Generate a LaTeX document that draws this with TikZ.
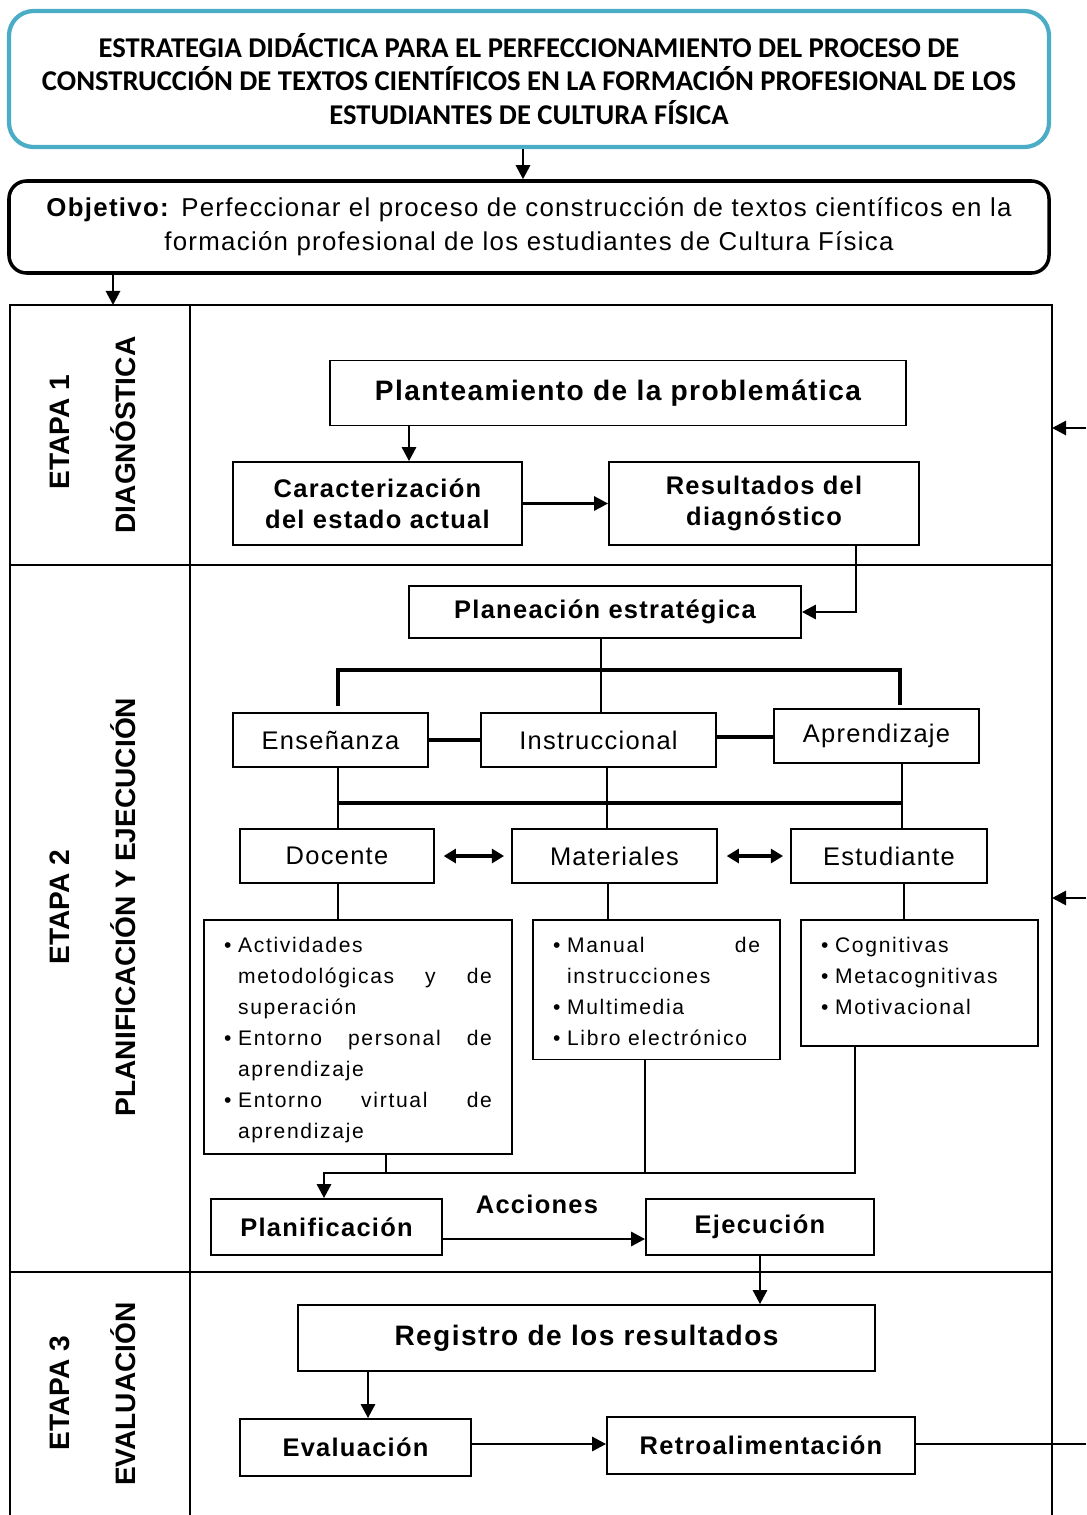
\documentclass[tikz,border=0pt]{standalone}
\usepackage{fontspec}
\setmainfont{Liberation Sans}[LetterSpace=5]
\newfontfamily\etapafont{Liberation Sans}
\newfontfamily\listafont{Liberation Sans}[LetterSpace=8]
\newfontfamily\titulofont{Carlito}
\usetikzlibrary{arrows.meta}
\definecolor{azulborde}{RGB}{75,172,198}
\newcommand\singuiones{\lefthyphenmin=62\relax}
\newcommand\vineta[1]{\par\noindent\hangindent=8pt\hangafter=1\makebox[8pt][l]{\textbullet}#1\par}
\newcommand\relleno[1]{\par\kern#1\relax}
\begin{document}
\begin{tikzpicture}[x=0.02cm,y=-0.02cm,
    caja/.style 2 args={draw,line width=1pt,minimum width=#1*0.02cm,minimum height=#2*0.02cm,inner sep=2pt,align=center,font=\fontsize{14.5}{17.5}\selectfont},
    negrita/.style={font=\fontsize{14.5}{17.5}\selectfont\bfseries},
    grande/.style={font=\fontsize{16}{19}\selectfont\bfseries},
    lista/.style={draw,line width=1pt,text width=#1,inner xsep=0.4cm,inner ysep=1pt,align=justify,
        font=\listafont\fontsize{12}{17.6}\selectfont\singuiones},
    etapa/.style={rotate=90,font=\etapafont\bfseries\fontsize{16}{19}\selectfont},
    marco/.style={line width=0.8pt},
    linea/.style={line width=1.6pt},
    barra/.style={line width=2.2pt},
    flecha/.style={line width=1.6pt,-{Triangle[length=8pt,width=8pt]}},
    doble/.style={line width=1.8pt,{Triangle[length=7pt,width=8pt]}-{Triangle[length=7pt,width=8pt]},shorten <=5pt,shorten >=4pt}]
    \useasboundingbox (0,0) rectangle (1086,1515);
    %Encabezado
    \node[draw=azulborde,line width=2.4pt,rounded corners=14pt,minimum width=1040*0.02cm,minimum height=136*0.02cm,align=center,
        font=\titulofont\bfseries\fontsize{16.3}{19}\selectfont] (titulo) at (529,79)
        {ESTRATEGIA DIDÁCTICA PARA EL PERFECCIONAMIENTO DEL PROCESO DE\\
         CONSTRUCCIÓN DE TEXTOS CIENTÍFICOS EN LA FORMACIÓN PROFESIONAL DE LOS\\
         ESTUDIANTES DE CULTURA FÍSICA};
    \node[draw,line width=2pt,rounded corners=10pt,minimum width=1040*0.02cm,minimum height=92*0.02cm,align=center,
        font=\fontsize{14.7}{19.3}\selectfont] (objetivo) at (529,227)
        {\textbf{Objetivo:} Perfeccionar el proceso de construcción de textos científicos en la\\
         formación profesional de los estudiantes de Cultura Física};
    \draw[flecha] (titulo.south -| 523,0) -- (objetivo.north -| 523,0);
    \coordinate (entrada) at (113,305);
    \draw[flecha] (objetivo.south -| entrada) -- (entrada);

    %Marco de etapas
    \draw[marco] (10,1515) -- (10,305) -- (1052,305) -- (1052,1515);
    \draw[marco] (190,305) -- (190,1515);
    \draw[marco] (10,565) -- (1052,565);
    \draw[marco] (10,1272) -- (1052,1272);
    \node[etapa] (e1) at (60,432) {ETAPA 1};
    \node[etapa] (n1) at (123,435) {DIAGNÓSTICA};
    \node[etapa] (e2) at (60,907) {ETAPA 2};
    \node[etapa] (n2) at (123,907) {PLANIFICACIÓN Y EJECUCIÓN};
    \node[etapa] (e3) at (60,1393) {ETAPA 3};
    \node[etapa] (n3) at (123,1394) {EVALUACIÓN};

    %Etapa 1
    \node[caja={576}{65},grande] (plant) at (618,393) {Planteamiento de la problemática};
    \node[caja={289}{83},negrita] (caract) at (377.5,503.5) {Caracterización\\del estado actual};
    \node[caja={310}{83},negrita] (result) at (764,503.5) {Resultados del\\diagnóstico};
    \draw[flecha] (plant.south -| 409,0) -- (caract.north -| 409,0);
    \draw[flecha] (caract.east) -- (result.west);

    %Etapa 2
    \node[caja={392}{52},negrita] (planea) at (605,612) {Planeación estratégica};
    \draw[flecha] (result.south -| 856,0) |- (planea.east);
    \node[caja={195}{54}] (ensen) at (330.5,740) {Enseñanza};
    \node[caja={235}{54}] (instr) at (598.5,740) {Instruccional};
    \node[caja={205}{54}] (aprend) at (876.5,736) {Aprendizaje};
    \draw[linea] (planea.south -| 601,0) -- (instr.north -| 601,0);
    \draw[barra] (ensen.north -| 338,0) ++(0,-6) -- (338,670) -- (900,670) -- ([yshift=0.06cm]aprend.north -| 900,0);
    \draw[barra] (ensen.east) -- (instr.west);
    \draw[barra] (instr.east |- 0,737) -- (aprend.west |- 0,737);
    \node[caja={194}{54}] (docente) at (337,856) {Docente};
    \node[caja={205}{54}] (mater) at (614.5,856) {Materiales};
    \node[caja={196}{54}] (estud) at (889,856) {Estudiante};
    \draw[linea] (ensen.south -| 338,0) -- (docente.north -| 338,0);
    \draw[linea] (instr.south -| 607,0) -- (mater.north -| 607,0);
    \draw[linea] (aprend.south -| 902,0) -- (estud.north -| 902,0);
    \draw[barra] (338,803) -- (902,803);
    \draw[doble] (docente.east) -- (mater.west);
    \draw[doble] (mater.east) -- (estud.west);
    \node[lista=5.36cm,anchor=north] (ldoc) at (358,919)
        {\vineta{Actividades\newline metodológicas y de superación}
         \vineta{Entorno personal de aprendizaje}
         \vineta{Entorno virtual de aprendizaje}\relleno{5.6pt}};
    \node[lista=4.14cm,anchor=north] (lmat) at (656.5,919)
        {\vineta{Manual de instrucciones}
         \vineta{Multimedia}
         \vineta{Libro electrónico}\relleno{7pt}};
    \node[lista=3.94cm,anchor=north] (lest) at (919.5,919)
        {\vineta{Cognitivas}
         \vineta{Metacognitivas}
         \vineta{Motivacional}\relleno{17pt}};
    \draw[linea] (docente.south -| 338,0) -- (ldoc.north -| 338,0);
    \draw[linea] (mater.south -| 608,0) -- (lmat.north -| 608,0);
    \draw[linea] (estud.south -| 904,0) -- (lest.north -| 904,0);
    \node[caja={231}{56},negrita] (planif) at (326.5,1227) {Planificación};
    \node[caja={228}{56},negrita] (ejec) at (760,1227) {Ejecución};
    \node[negrita] (acciones) at (537,1204) {Acciones};
    \draw[linea] (ldoc.south -| 386,0) -- (386,1173);
    \draw[linea] (lmat.south -| 645,0) -- (645,1173);
    \draw[flecha] (lest.south -| 855,0) |- (324,1173) -- (planif.north -| 324,0);
    \draw[flecha] (planif.east |- 0,1239) -- (ejec.west |- 0,1239);
    \coordinate (ret2) at (1086,898);
    \draw[flecha] (ret2) -- (1052,898);

    %Etapa 3
    \node[caja={577}{66},grande] (regis) at (586.5,1338) {Registro de los resultados};
    \node[caja={231}{57},negrita] (evalu) at (355.5,1447.5) {Evaluación};
    \node[caja={308}{57},negrita] (retro) at (761,1445.5) {Retroalimentación};
    \draw[flecha] (ejec.south) -- (ejec.south |- regis.north);
    \draw[flecha] (regis.south -| 368,0) -- (evalu.north -| 368,0);
    \draw[flecha] (evalu.east |- 0,1444) -- (retro.west |- 0,1444);
    \coordinate (ret3) at (1086,1444);
    \draw[linea] (retro.east |- ret3) -- (ret3);
    \coordinate (ret1) at (1086,428);
    \draw[flecha] (ret1) -- (1052,428);
\end{tikzpicture}
\end{document}
